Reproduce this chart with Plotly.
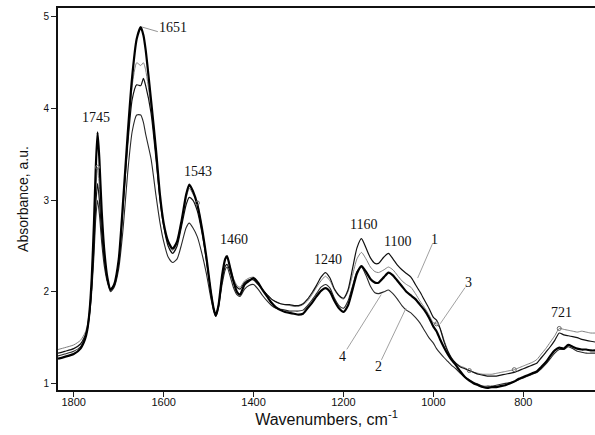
import plotly.graph_objects as go

# Wavenumbers (cm-1), shared by all four spectra
wavenumber = [1835, 1820, 1800, 1785, 1775, 1770, 1765, 1760, 1755, 1751, 1747, 1743, 1738, 1732, 1725, 1718,
              1710, 1700, 1690, 1680, 1670, 1660, 1651, 1645, 1640, 1628, 1617, 1608, 1600, 1590, 1580, 1570,
              1560, 1550, 1543, 1535, 1525, 1515, 1505, 1495, 1488, 1484, 1478, 1470, 1463, 1459, 1452, 1445,
              1437, 1430, 1420, 1410, 1400, 1390, 1380, 1370, 1360, 1350, 1340, 1330, 1320, 1310, 1300, 1290,
              1280, 1270, 1260, 1250, 1240, 1230, 1220, 1210, 1200, 1190, 1180, 1170, 1160, 1150, 1140, 1130,
              1122, 1110, 1100, 1090, 1080, 1070, 1060, 1050, 1040, 1030, 1020, 1010, 1000, 993, 985, 976,
              968, 960, 950, 940, 930, 920, 910, 900, 890, 880, 870, 860, 850, 840, 830, 820,
              810, 800, 790, 780, 770, 760, 750, 740, 730, 720, 710, 700, 690, 680, 670, 660,
              650, 638]

spectrum_1 = [1.33, 1.35, 1.38, 1.43, 1.52, 1.60, 1.76, 2.05, 2.50, 2.95, 3.18, 3.00, 2.65, 2.35, 2.12, 2.03,
              2.08, 2.32, 2.95, 3.60, 4.10, 4.26, 4.25, 4.33, 4.25, 3.95, 3.45, 3.00, 2.72, 2.50, 2.42, 2.50,
              2.72, 2.95, 3.03, 3.00, 2.88, 2.65, 2.35, 2.00, 1.80, 1.75, 1.85, 2.12, 2.28, 2.30, 2.22, 2.12,
              2.05, 2.03, 2.10, 2.13, 2.13, 2.08, 2.02, 1.97, 1.92, 1.89, 1.87, 1.86, 1.86, 1.85, 1.85, 1.87,
              1.92, 1.99, 2.07, 2.16, 2.21, 2.15, 2.03, 1.96, 1.93, 2.02, 2.25, 2.48, 2.58, 2.48, 2.37, 2.31,
              2.31, 2.38, 2.42, 2.36, 2.29, 2.24, 2.20, 2.16, 2.08, 2.00, 1.91, 1.82, 1.72, 1.69, 1.60, 1.45,
              1.35, 1.28, 1.22, 1.18, 1.16, 1.14, 1.12, 1.10, 1.09, 1.08, 1.08, 1.08, 1.09, 1.10, 1.11, 1.12,
              1.14, 1.16, 1.18, 1.20, 1.22, 1.28, 1.34, 1.40, 1.47, 1.55, 1.53, 1.52, 1.51, 1.50, 1.48, 1.47,
              1.46, 1.45]

spectrum_2 = [1.30, 1.32, 1.35, 1.40, 1.50, 1.58, 1.74, 2.00, 2.40, 2.80, 3.00, 2.85, 2.55, 2.28, 2.10, 2.00,
              2.05, 2.25, 2.70, 3.30, 3.75, 3.93, 3.93, 3.85, 3.72, 3.45, 3.05, 2.75, 2.55, 2.38, 2.32, 2.36,
              2.52, 2.70, 2.75, 2.70, 2.60, 2.42, 2.20, 1.93, 1.78, 1.73, 1.83, 2.08, 2.24, 2.27, 2.17, 2.05,
              1.97, 1.95, 2.03, 2.07, 2.08, 2.03, 1.96, 1.90, 1.85, 1.82, 1.81, 1.80, 1.79, 1.79, 1.79, 1.80,
              1.85, 1.91, 1.98, 2.05, 2.08, 2.04, 1.93, 1.85, 1.82, 1.90, 2.06, 2.22, 2.27, 2.18, 2.06, 1.99,
              1.98, 2.00, 2.02, 1.98, 1.92, 1.85, 1.80, 1.77, 1.72, 1.66, 1.58, 1.50, 1.44, 1.38, 1.33, 1.28,
              1.24, 1.20, 1.16, 1.11, 1.07, 1.04, 1.01, 0.99, 0.97, 0.97, 0.97, 0.98, 0.99, 1.00, 1.01, 1.02,
              1.04, 1.06, 1.08, 1.10, 1.12, 1.16, 1.21, 1.27, 1.33, 1.37, 1.37, 1.40, 1.38, 1.35, 1.34, 1.33,
              1.33, 1.33]

spectrum_3 = [1.37, 1.39, 1.42, 1.47, 1.55, 1.63, 1.80, 2.10, 2.60, 3.10, 3.36, 3.15, 2.75, 2.40, 2.14, 2.03,
              2.08, 2.33, 2.98, 3.68, 4.25, 4.50, 4.47, 4.50, 4.42, 4.02, 3.50, 3.03, 2.74, 2.53, 2.45, 2.53,
              2.76, 3.02, 3.13, 3.07, 2.97, 2.70, 2.37, 2.00, 1.80, 1.75, 1.86, 2.17, 2.35, 2.38, 2.27, 2.15,
              2.07, 2.05, 2.12, 2.15, 2.16, 2.10, 2.03, 1.97, 1.92, 1.89, 1.87, 1.86, 1.85, 1.84, 1.84, 1.86,
              1.90, 1.97, 2.05, 2.12, 2.17, 2.12, 2.02, 1.95, 1.92, 2.00, 2.18, 2.36, 2.43, 2.36, 2.27, 2.22,
              2.21, 2.24, 2.27, 2.24, 2.18, 2.12, 2.08, 2.05, 1.98, 1.90, 1.83, 1.75, 1.66, 1.65, 1.60, 1.47,
              1.36, 1.28, 1.22, 1.19, 1.17, 1.14, 1.12, 1.11, 1.10, 1.10, 1.10, 1.11, 1.12, 1.13, 1.14, 1.15,
              1.17, 1.19, 1.21, 1.23, 1.26, 1.32, 1.38, 1.45, 1.52, 1.60, 1.59, 1.58, 1.57, 1.56, 1.57, 1.56,
              1.55, 1.55]

spectrum_4 = [1.27, 1.29, 1.32, 1.38, 1.48, 1.58, 1.78, 2.15, 2.75, 3.35, 3.74, 3.45, 2.90, 2.45, 2.15, 2.02,
              2.08, 2.35, 3.00, 3.72, 4.35, 4.76, 4.89, 4.80, 4.64, 4.09, 3.55, 3.05, 2.75, 2.55, 2.47, 2.55,
              2.78, 3.06, 3.17, 3.10, 2.95, 2.70, 2.38, 2.00, 1.80, 1.74, 1.85, 2.18, 2.36, 2.39, 2.26, 2.12,
              2.00, 1.97, 2.08, 2.12, 2.15, 2.10, 2.02, 1.95, 1.88, 1.83, 1.80, 1.78, 1.77, 1.76, 1.75, 1.76,
              1.82, 1.88, 1.95, 2.01, 2.04, 2.00, 1.90, 1.82, 1.78, 1.85, 2.02, 2.20, 2.28, 2.22, 2.14, 2.10,
              2.10, 2.16, 2.21, 2.18, 2.12, 2.06, 2.00, 1.96, 1.92, 1.86, 1.80, 1.72, 1.62, 1.57, 1.48, 1.39,
              1.32, 1.26, 1.20, 1.13, 1.07, 1.03, 1.00, 0.98, 0.96, 0.95, 0.96, 0.96, 0.97, 0.98, 1.00, 1.02,
              1.05, 1.07, 1.09, 1.11, 1.13, 1.18, 1.23, 1.30, 1.36, 1.39, 1.38, 1.42, 1.40, 1.38, 1.37, 1.37,
              1.36, 1.36]

# wavenumbers where spectrum 3 carries small open-circle symbols
marked_wavenumbers = [1747, 1525, 993, 920, 820, 720]

# band labels: (text, wavenumber, absorbance)
band_labels = [("1745", 1751, 3.90), ("1651", 1579, 4.89), ("1543", 1524, 3.31), ("1460", 1443, 2.57),
               ("1240", 1234, 2.35), ("1160", 1156, 2.73), ("1100", 1080, 2.55), ("721", 715, 1.77)]
# curve labels: (text, label wavenumber, label absorbance, pointer wavenumber, pointer absorbance)
curve_labels = [("1", 998, 2.57, 1035, 2.15), ("2", 1123, 1.18, 1061, 1.82),
                ("3", 922, 2.10, 985, 1.65), ("4", 1203, 1.29, 1116, 1.97)]

fig = go.Figure()
styles = [
    (spectrum_3, "#808080", 1.0),
    (spectrum_2, "#2a2a2a", 1.1),
    (spectrum_1, "#111111", 1.2),
    (spectrum_4, "#000000", 2.2),
]
for ys, col, w in styles:
    fig.add_trace(go.Scatter(x=wavenumber, y=ys, mode="lines",
                             line=dict(color=col, width=w, shape="spline", smoothing=0.6),
                             showlegend=False, hoverinfo="skip"))

mk_y = [spectrum_3[wavenumber.index(v)] for v in marked_wavenumbers]
fig.add_trace(go.Scatter(x=marked_wavenumbers, y=mk_y, mode="markers",
                         marker=dict(symbol="circle-open", size=4, color="#666666", line=dict(width=1)),
                         showlegend=False, hoverinfo="skip"))

serif = dict(family="Liberation Serif, Times New Roman, serif", size=14, color="#111111")
for txt, xv, yv in band_labels:
    fig.add_annotation(x=xv, y=yv, text=txt, showarrow=False, font=serif)

# leader line for 1651
fig.add_shape(type="line", x0=1613, y0=4.84, x1=1648, y1=4.89, line=dict(color="#777777", width=0.8))

for txt, lx, ly, px, py in curve_labels:
    fig.add_annotation(x=lx, y=ly, text=txt, showarrow=False, font=serif)
    sx = lx + (px - lx) * 0.12
    sy = ly + (py - ly) * 0.12
    fig.add_shape(type="line", x0=sx, y0=sy, x1=px, y1=py, line=dict(color="#888888", width=0.8))

axis_font = dict(family="Liberation Sans, Arial, sans-serif", size=11, color="#111111")
fig.update_xaxes(range=[1835, 640.5], tickvals=[1800, 1600, 1400, 1200, 1000, 800],
                 ticks="outside", ticklen=5, tickwidth=1, tickcolor="#222",
                 ticklabelstandoff=-4,
                 showline=True, linecolor="#111", linewidth=2, mirror=True,
                 showgrid=False, zeroline=False, tickfont=axis_font,
                 title=dict(text="Wavenumbers, cm<sup>-1</sup>",
                            font=dict(family="Liberation Sans, Arial, sans-serif", size=16, color="#111"),
                            standoff=4))
fig.update_yaxes(range=[0.928, 5.098], tickvals=[1, 2, 3, 4, 5],
                 ticks="outside", ticklen=5, tickwidth=1, tickcolor="#222",
                 showline=True, linecolor="#111", linewidth=2,
                 showgrid=False, zeroline=False,
                 tickfont=dict(family="Liberation Sans, Arial, sans-serif", size=10, color="#111"),
                 title=dict(text="Absorbance, a.u.",
                            font=dict(family="Liberation Sans, Arial, sans-serif", size=14, color="#111"),
                            standoff=12))

fig.update_layout(width=595, height=435, margin=dict(l=58, r=0, t=8, b=45, autoexpand=False),
                  plot_bgcolor="white", paper_bgcolor="white")

fig.write_html("out.html", config={"displayModeBar": False},
               post_script="document.body.style.margin='0';document.body.style.overflow='hidden';")
